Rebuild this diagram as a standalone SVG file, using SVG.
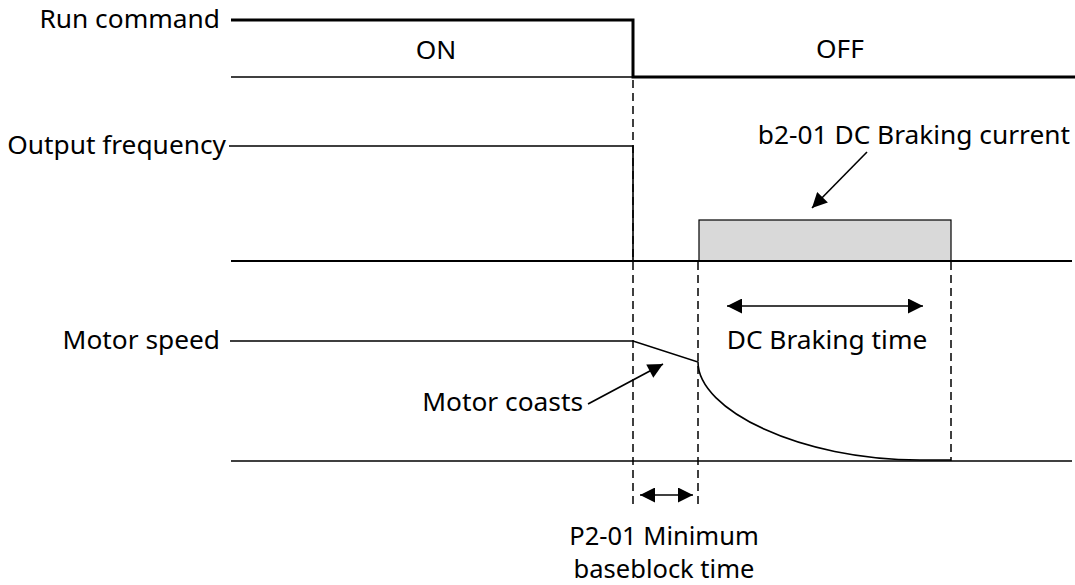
<svg xmlns="http://www.w3.org/2000/svg" width="1075" height="585" viewBox="0 0 1075 585">
<style>
text{font-family:"Noto Sans","Open Sans","Liberation Sans",sans-serif;font-size:26.3px;fill:#000}
text.s{font-size:25.5px}
.t{stroke:#000;fill:none;stroke-width:1.6}
.k{stroke:#000;fill:none;stroke-width:3}
.d{stroke:#000;fill:none;stroke-width:1.5;stroke-dasharray:8 5}
.a{stroke:#000;fill:none;stroke-width:1.6}
</style>
<defs>
<marker id="ah" viewBox="0 0 10 10" refX="10" refY="5" markerWidth="23" markerHeight="15" markerUnits="userSpaceOnUse" orient="auto-start-reverse">
<path d="M0,0 L10,5 L0,10 z" fill="#000"/>
</marker>
</defs>
<rect width="1075" height="585" fill="#fff"/>
<g id="labels">
<text x="220" y="28" text-anchor="end">Run command</text>
<text x="436" y="59" text-anchor="middle">ON</text>
<text x="840" y="58" text-anchor="middle">OFF</text>
<text x="226" y="154" text-anchor="end">Output frequency</text>
<text x="1070" y="144" text-anchor="end">b2-01 DC Braking current</text>
<text x="220" y="349" text-anchor="end">Motor speed</text>
<text x="827" y="349" text-anchor="middle">DC Braking time</text>
<text x="583" y="411" text-anchor="end">Motor coasts</text>
<text class="s" x="664" y="545" text-anchor="middle">P2-01 Minimum</text>
<text class="s" x="664" y="578" text-anchor="middle">baseblock time</text>
</g>
<g id="braking-box">
<rect x="699" y="220" width="252" height="41" fill="#d9d9d9" stroke="#000" stroke-width="1.2"/>
</g>
<g id="connectors">
<path class="k" d="M231,20 H633 V77 H1075"/>
<path class="t" d="M231,77 H633"/>
<path class="t" d="M229,146 H633 V261"/>
<path class="k" d="M231,261 H1072" style="stroke-width:2.2"/>
<path class="t" d="M230,341 H633 L698,362 C698,410 800,460 920,460 H951"/>
<path class="t" d="M231,461 H1072"/>
<path class="d" d="M633,80 V506"/>
<path class="d" d="M698,262 V506"/>
<path class="d" d="M951,262 V461"/>
<path class="a" d="M867,152 L812,208" marker-end="url(#ah)"/>
<path class="a" d="M588,404 L663,364" marker-end="url(#ah)"/>
<path class="a" d="M727,306 H923" marker-start="url(#ah)" marker-end="url(#ah)"/>
<path class="a" d="M640,495 H693" marker-start="url(#ah)" marker-end="url(#ah)"/>
</g>
</svg>
